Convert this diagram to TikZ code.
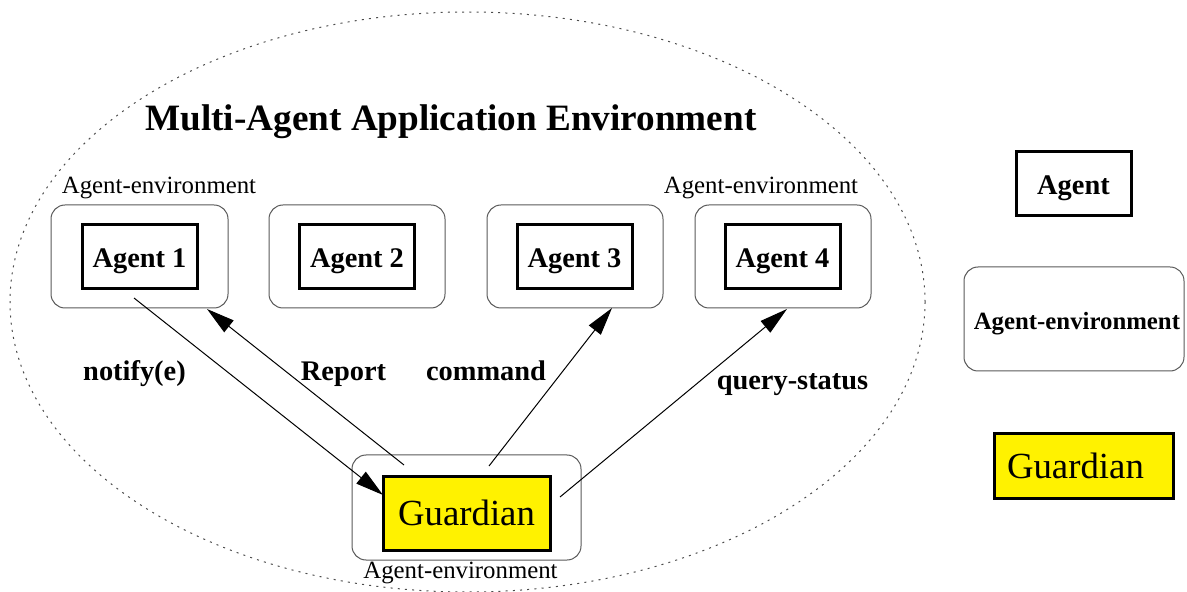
\documentclass[tikz,border=0pt]{standalone}
\usepackage{fontspec}
\setmainfont{Liberation Serif}
\usetikzlibrary{arrows.meta}
\begin{document}
\begin{tikzpicture}[x=0.5pt,y=-0.5pt,
  envbox/.style={draw=black!65, line width=0.5pt, rounded corners=7pt,
    minimum width=88.5pt, minimum height=51.5pt, inner sep=0pt},
  agentbox/.style={draw=black, line width=1.5pt, minimum width=57.5pt,
    minimum height=32pt, inner sep=0pt, text height=11pt, text depth=0pt,
    font=\fontsize{14.2}{16}\selectfont\bfseries},
  guardbox/.style={draw=black, line width=1.5pt, fill=yellow, inner sep=0pt,
    font=\fontsize{18.4}{20}\selectfont},
  envlabel/.style={anchor=base, inner sep=0pt,
    font=\fontsize{12.4}{14}\selectfont},
  msglabel/.style={anchor=base, inner sep=0pt,
    font=\fontsize{14.2}{16}\selectfont\bfseries},
  msg/.style={line width=0.5pt, -{Triangle[length=14pt,width=7.5pt]}},
  boundary/.style={draw=black!70, line width=0.5pt, dash pattern=on 1pt off 2.6pt},
]
\useasboundingbox (0,0) rectangle (1187,592);
\clip (0,0) rectangle (1187,592);

% application environment boundary
\draw[boundary] (467.5,302) ellipse [x radius=457.5, y radius=290];
\node[anchor=base, inner sep=0pt, font=\fontsize{18.6}{22}\selectfont\bfseries]
  (title) at (451,131) {Multi-Agent Application Environment};

% agent environments
\node[envbox] (env1) at (139.5,256.5) {};
\node[envbox, minimum width=88pt] (env2) at (357,256.5) {};
\node[envbox, minimum width=88pt] (env3) at (575,256.5) {};
\node[envbox, minimum width=88pt] (env4) at (783,256.5) {};
\node[envlabel] (lab1) at (159,194) {Agent-environment};
\node[envlabel] (lab4) at (761,194) {Agent-environment};

% agents
\node[agentbox] (a1) at (139.5,257) {Agent 1};
\node[agentbox] (a2) at (357,257) {Agent 2};
\node[agentbox] (a3) at (574.5,257) {Agent 3};
\node[agentbox] (a4) at (782.5,257) {Agent 4};

% guardian
\node[envbox, minimum width=114.5pt, minimum height=52.5pt] (genv) at (466.5,507.5) {};
\node[guardbox, minimum width=83.5pt, minimum height=37pt] (guard) at (466.5,513) {Guardian};
\node[envlabel] (labg) at (460.5,578) {Agent-environment};

% message end points
\coordinate (nfrom) at (134,298);
\coordinate (nto)   at (383,495);
\coordinate (rfrom) at (404,465);
\coordinate (rto)   at (207,309);
\coordinate (cfrom) at (489,466);
\coordinate (cto)   at (612,308);
\coordinate (qfrom) at (560,497);
\coordinate (qto)   at (787,309);

\draw[msg] (nfrom) -- (nto);
\draw[msg] (rfrom) -- (rto);
\draw[msg] (cfrom) -- (cto);
\draw[msg] (qfrom) -- (qto);

\node[msglabel] (lnotify)  at (134.5,381) {notify(e)};
\node[msglabel] (lreport)  at (343.5,381) {Report};
\node[msglabel] (lcommand) at (486,381)   {command};
\node[msglabel] (lquery)   at (792.5,390) {query-status};

% legend
\node[agentbox] (legagent) at (1073.5,184) {Agent};
\node[envbox, minimum width=110pt, minimum height=52pt, text height=11pt,
  text depth=0pt, inner xsep=2pt, text width=106pt, align=right,
  font=\fontsize{12.4}{14}\selectfont\bfseries] (legenv) at (1074,319) {Agent-environment};
\node[guardbox, minimum width=89.5pt, minimum height=32pt, text width=76.5pt,
  align=left, inner xsep=6.5pt] (legguard) at (1083.5,466) {Guardian};
\end{tikzpicture}
\end{document}
